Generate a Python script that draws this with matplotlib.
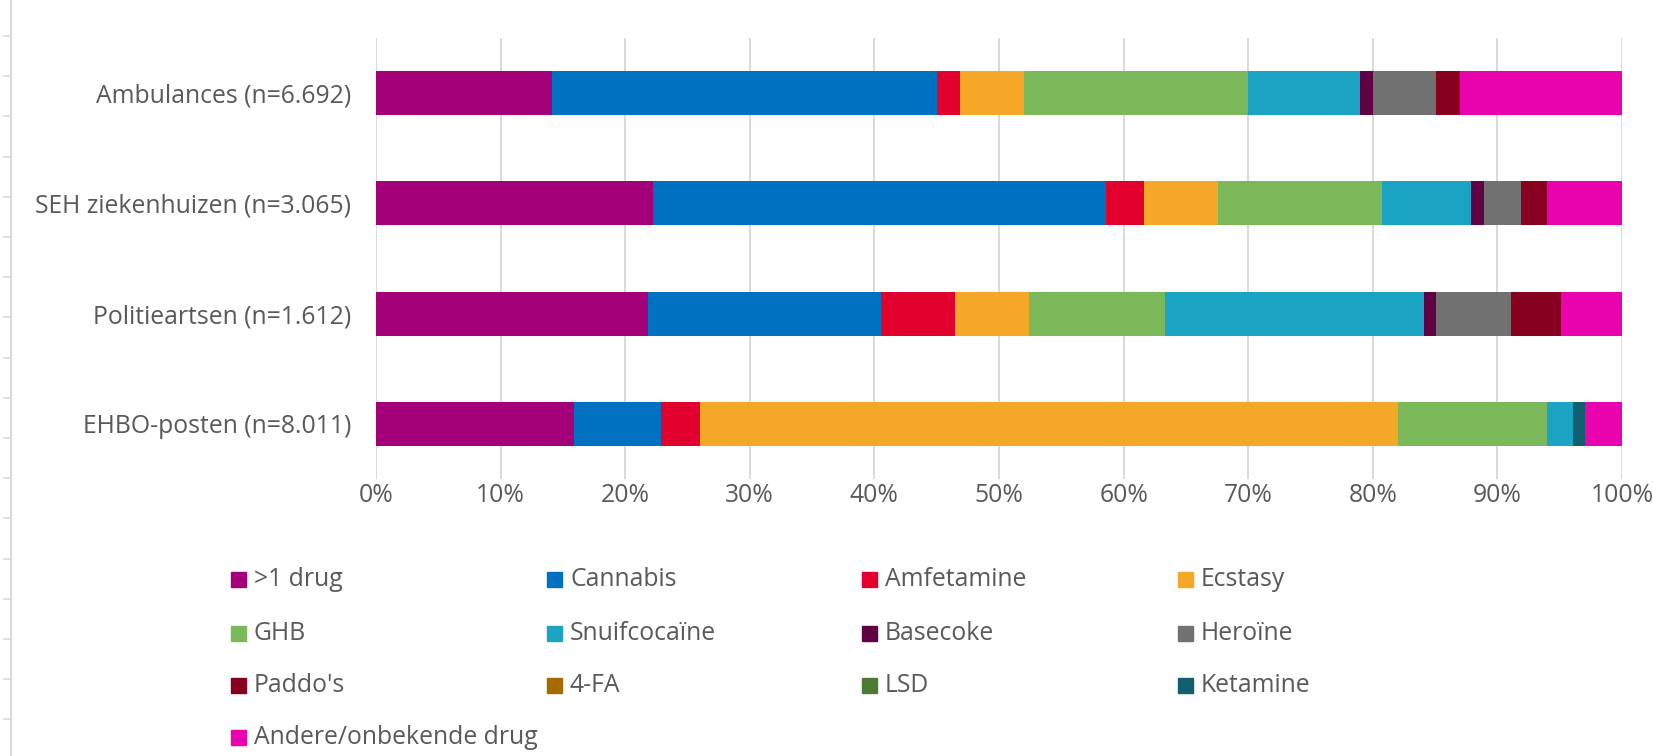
import matplotlib
matplotlib.use("Agg")
import matplotlib.pyplot as plt
from matplotlib.patches import Rectangle
from matplotlib.lines import Line2D
import numpy as np

plt.rcParams['font.family'] = ['Open Sans', 'DejaVu Sans']

categories = ["Ambulances (n=6.692)", "SEH ziekenhuizen (n=3.065)",
              "Politieartsen (n=1.612)", "EHBO-posten (n=8.011)"]
series_names = [">1 drug", "Cannabis", "Amfetamine", "Ecstasy", "GHB", "Snuifcocaïne",
                "Basecoke", "Heroïne", "Paddo's", "4-FA", "LSD", "Ketamine",
                "Andere/onbekende drug"]
colors = ["#A3007A", "#0070C0", "#E2002E", "#F5A727", "#7AB85A", "#1BA3C3",
          "#600045", "#717171", "#87001F", "#A66B00", "#4C7A33", "#125F70",
          "#E903AF"]

# percentages per category (order of categories)
drug_1plus   = [14.1, 22.2, 21.8, 15.9]
cannabis     = [30.9, 36.4, 18.7, 7.0]
amfetamine   = [1.9, 3.0, 6.0, 3.1]
ecstasy      = [5.1, 6.0, 5.9, 56.0]
ghb          = [18.0, 13.1, 10.9, 12.0]
snuifcocaine = [9.0, 7.2, 20.8, 2.1]
basecoke     = [1.0, 1.0, 1.0, 0.0]
heroine      = [5.1, 3.0, 6.0, 0.0]
paddos       = [1.9, 2.1, 4.0, 0.0]
fa4          = [0.0, 0.0, 0.0, 0.0]
lsd          = [0.0, 0.0, 0.0, 0.0]
ketamine     = [0.0, 0.0, 0.0, 0.9]
andere       = [13.0, 6.0, 4.9, 3.0]

values = [drug_1plus, cannabis, amfetamine, ecstasy, ghb, snuifcocaine, basecoke,
          heroine, paddos, fa4, lsd, ketamine, andere]

W, H = 1653, 756
FS = 17.8
fig = plt.figure(figsize=(16.53, 7.56), dpi=100)
ax = fig.add_axes([376 / W, 1 - 479 / H, (1622 - 376) / W, (479 - 38) / H])

y = np.arange(len(categories))
left = np.zeros(len(categories))
for name, vals, col in zip(series_names, values, colors):
    v = np.array(vals, dtype=float)
    ax.barh(y, v, left=left, height=0.4, color=col, label=name, zorder=3)
    left += v

ax.set_xlim(0, 100)
ax.set_ylim(len(categories) - 0.5, -0.5)
ax.set_xticks(np.arange(0, 101, 10))
ax.set_xticklabels([f"{t}%" for t in range(0, 101, 10)])
ax.set_yticks(y)
ax.set_yticklabels(categories)
ax.grid(axis='x', color='#D9D9D9', linewidth=1.4, zorder=0)
ax.set_axisbelow(True)
for s in ax.spines.values():
    s.set_visible(False)
ax.tick_params(axis='both', length=0, labelsize=FS, labelcolor='#595959')
ax.tick_params(axis='y', pad=18)
ax.tick_params(axis='x', pad=3)

# legend, laid out manually in 4 columns
col_x = [231, 547, 862, 1178]
row_y = [579, 633, 685, 737]
for i, (name, col) in enumerate(zip(series_names, colors)):
    r, c = divmod(i, 4)
    x0 = col_x[c]
    y0 = row_y[r]
    fig.patches.append(Rectangle((x0 / W, 1 - (y0 + 8) / H), 15 / W, 15 / H,
                                 transform=fig.transFigure, color=col))
    fig.text((x0 + 23) / W, 1 - y0 / H, name, ha='left', va='center',
             fontsize=FS, color='#595959')

# faint left-edge sheet line with tick marks
fig.add_artist(Line2D([11 / W, 11 / W], [0, 1], transform=fig.transFigure,
                      color='#D9D9D9', linewidth=1.5))
for ty in np.arange(36, 756, 40.2):
    fig.add_artist(Line2D([4 / W, 11 / W], [1 - ty / H, 1 - ty / H],
                          transform=fig.transFigure, color='#D9D9D9', linewidth=1.2))

fig.savefig("out.png", dpi=100)
